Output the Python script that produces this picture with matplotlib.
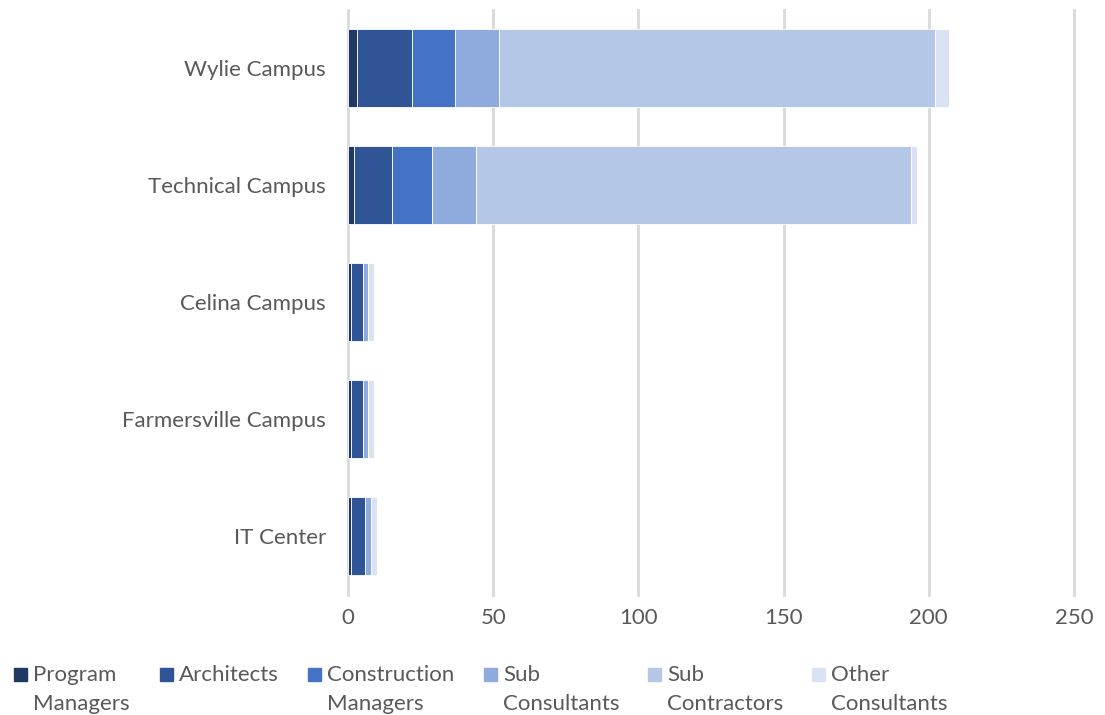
import matplotlib.pyplot as plt
from matplotlib.patches import Rectangle

campuses = ["Wylie Campus", "Technical Campus", "Celina Campus", "Farmersville Campus", "IT Center"]
series_names = ["Program\nManagers", "Architects", "Construction\nManagers", "Sub\nConsultants", "Sub\nContractors", "Other\nConsultants"]
program_managers = [3, 2, 1, 1, 1]
architects = [19, 13, 4, 4, 5]
construction_managers = [15, 14, 0, 0, 0]
sub_consultants = [15, 15, 2, 2, 2]
sub_contractors = [150, 150, 0, 0, 0]
other_consultants = [5, 2, 2, 2, 2]
xticks = [0, 50, 100, 150, 200, 250]

colors = ["#203864", "#2F5597", "#4472C4", "#8FAADC", "#B4C7E7", "#DAE3F3"]
series = [program_managers, architects, construction_managers,
          sub_consultants, sub_contractors, other_consultants]

plt.rcParams['font.family'] = ['Lato', 'DejaVu Sans']
fig = plt.figure(figsize=(11.05, 7.15), dpi=100)
ax = fig.add_axes([348 / 1105, 1 - 594.5 / 715, 726 / 1105, 585 / 715])

ypos = list(range(len(campuses)))
left = [0] * len(campuses)
for vals, col in zip(series, colors):
    ax.barh(ypos, vals, left=left, height=0.675, color=col,
            edgecolor="white", linewidth=0.6, zorder=3)
    left = [l + v for l, v in zip(left, vals)]

ax.set_xlim(0, 250)
ax.set_ylim(len(campuses) - 0.5, -0.5)
ax.set_yticks(ypos)
ax.set_yticklabels(campuses)
ax.set_xticks(xticks)
ax.xaxis.grid(True, color="#d9d9d9", linewidth=2, zorder=0)
for gl in ax.get_xgridlines():
    gl.set_clip_on(False)
ax.tick_params(length=0, labelsize=16, labelcolor="#595959")
ax.tick_params(axis="y", pad=16)
ax.tick_params(axis="x", pad=10)
for s in ax.spines.values():
    s.set_visible(False)

# legend drawn by hand so the swatch lines up with the first text line
leg_x = [14, 160, 308, 484, 648, 812]
for x, name, col in zip(leg_x, series_names, colors):
    fig.patches.append(Rectangle((x / 1105, 1 - 681 / 715), 13 / 1105, 13 / 715,
                                 transform=fig.transFigure, color=col))
    fig.text((x + 19) / 1105, 1 - 665 / 715, name, fontsize=16, color="#595959",
             va="top", ha="left", linespacing=1.55)

fig.savefig("out.png", dpi=100)
